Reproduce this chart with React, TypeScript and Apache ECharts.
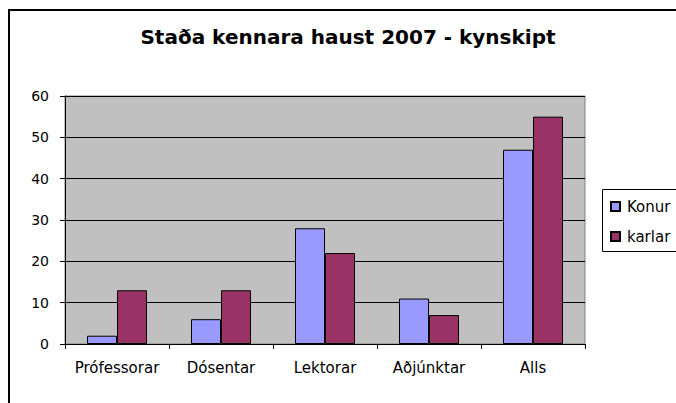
import React, { useEffect, useRef } from "react";
import * as echarts from "echarts";

const categories = ["Prófessorar", "Dósentar", "Lektorar", "Aðjúnktar", "Alls"];
const konur = [2, 6, 28, 11, 47];
const karlar = [13, 13, 22, 7, 55];
const seriesNames = ["Konur", "karlar"];
const titleText = "Staða kennara haust 2007 - kynskipt";

export default function App() {
  const ref = useRef<HTMLDivElement>(null);
  useEffect(() => {
    if (!ref.current) return;
    const chart = echarts.init(ref.current, null, { renderer: "svg" });
    const font = "DejaVu Sans, sans-serif";
    chart.setOption({
      animation: false,
      backgroundColor: "#ffffff",
      textStyle: { fontFamily: font },
      title: {
        text: titleText,
        left: 348,
        top: 27,
        padding: 0,
        textAlign: "center",
        textStyle: { fontSize: 20, fontWeight: "bold", color: "#000", fontFamily: font },
      },
      grid: { left: 65, right: 91, top: 96, bottom: 59, show: true, backgroundColor: "#c0c0c0", borderColor: "#808080", borderWidth: 1 },
      legend: {
        orient: "vertical",
        left: 610,
        top: 199,
        padding: 0,
        itemWidth: 9,
        itemHeight: 9,
        itemGap: 15,
        icon: "rect",
        textStyle: { fontSize: 15, color: "#000", fontFamily: font, padding: [0, 0, 0, 2] },
        data: seriesNames,
      },
      xAxis: {
        type: "category",
        data: categories,
        axisLine: { lineStyle: { color: "#000", width: 1 } },
        axisTick: { show: true, interval: 0, length: 5, lineStyle: { color: "#000" } },
        axisLabel: { color: "#000", fontSize: 15, margin: 16, interval: 0, fontFamily: font },
      },
      yAxis: {
        type: "value",
        min: 0,
        max: 60,
        interval: 10,
        axisLine: { show: true, lineStyle: { color: "#000", width: 1 } },
        axisTick: { show: true, length: 5, lineStyle: { color: "#000" } },
        axisLabel: { color: "#000", fontSize: 14, margin: 16, fontFamily: font },
        splitLine: { lineStyle: { color: "#000", width: 1 } },
      },
      series: [
        {
          name: seriesNames[0],
          type: "bar",
          data: konur,
          barWidth: 30,
          barGap: "0%",
          itemStyle: { color: "#9999ff", borderColor: "#000", borderWidth: 1 },
        },
        {
          name: seriesNames[1],
          type: "bar",
          data: karlar,
          barWidth: 30,
          barGap: "0%",
          itemStyle: { color: "#993366", borderColor: "#000", borderWidth: 1 },
        },
      ],
      graphic: [
        {
          type: "rect",
          shape: { x: 9, y: 10, width: 720, height: 500 },
          style: { fill: "none", stroke: "#000", lineWidth: 2 },
          silent: true,
        },
        {
          type: "rect",
          shape: { x: 602.5, y: 189.5, width: 100, height: 62 },
          style: { fill: "none", stroke: "#000", lineWidth: 1 },
          silent: true,
        },
      ],
    });
    return () => chart.dispose();
  }, []);
  return <div ref={ref} style={{ position: "fixed", left: 0, top: 0, width: 676, height: 403 }} />;
}
